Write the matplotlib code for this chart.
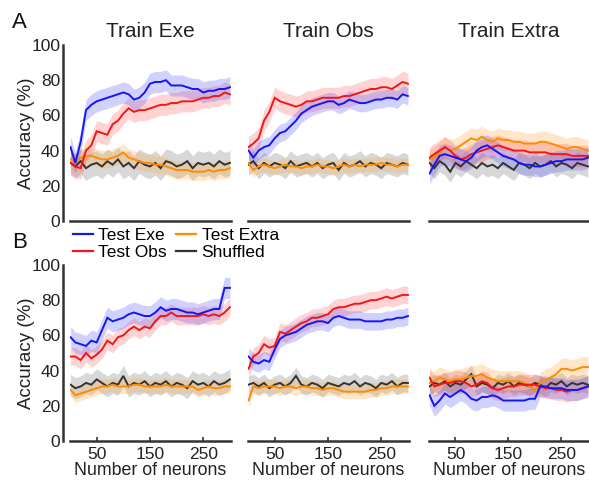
import matplotlib
matplotlib.use('Agg')
import matplotlib.pyplot as plt
import numpy as np
from matplotlib.lines import Line2D

plt.rcParams['font.family'] = ['Liberation Sans', 'DejaVu Sans']

# ---------------- data ----------------
neurons = [1, 10, 20, 30, 40, 50, 60, 70, 80, 90, 100, 110, 120, 130, 140, 150,
           160, 170, 180, 190, 200, 210, 220, 230, 240, 250, 260, 270, 280, 290, 300]

train_titles = ["Train Exe", "Train Obs", "Train Extra"]
series_labels = ["Test Exe", "Test Obs", "Test Extra", "Shuffled"]
tick_x = [50, 150, 250]
tick_y = [0, 20, 40, 60, 80, 100]

# Row A
a_exe_exe = [42, 33, 45, 63, 66, 68, 69, 70, 71, 72, 73, 72, 69, 70, 73, 78, 79, 79, 80, 77, 77, 77, 76, 75, 75, 73, 74, 74, 75, 75, 76]
a_exe_obs = [33, 31, 30, 40, 43, 51, 50, 49, 55, 57, 61, 64, 62, 63, 63, 64, 65, 66, 66, 67, 67, 68, 68, 68, 69, 70, 70, 71, 71, 73, 72]
a_exe_ext = [35, 33, 36, 37, 37, 36, 35, 35, 36, 37, 39, 36, 35, 34, 33, 33, 32, 32, 31, 30, 29, 29, 29, 28, 28, 28, 29, 28, 29, 29, 30]
a_exe_shf = [33, 31, 34, 30, 32, 33, 31, 34, 32, 35, 31, 33, 30, 34, 32, 31, 33, 30, 34, 33, 31, 32, 34, 30, 33, 32, 33, 31, 34, 32, 33]

a_obs_exe = [40, 36, 40, 42, 43, 47, 50, 51, 54, 57, 61, 63, 65, 66, 67, 68, 68, 66, 67, 69, 68, 67, 67, 68, 69, 69, 70, 70, 69, 72, 71]
a_obs_obs = [42, 44, 47, 57, 62, 70, 68, 67, 66, 65, 66, 68, 68, 69, 70, 70, 70, 70, 71, 71, 72, 73, 74, 75, 75, 76, 76, 75, 77, 79, 78]
a_obs_ext = [33, 29, 31, 32, 31, 30, 31, 32, 31, 31, 30, 31, 31, 32, 31, 31, 30, 31, 32, 31, 32, 31, 32, 32, 32, 33, 32, 32, 31, 32, 32]
a_obs_shf = [32, 34, 30, 33, 31, 33, 32, 30, 34, 31, 32, 33, 31, 33, 30, 32, 33, 29, 33, 31, 32, 34, 31, 33, 32, 30, 33, 32, 31, 33, 32]

a_ext_exe = [27, 32, 37, 38, 37, 36, 35, 34, 36, 40, 42, 43, 41, 39, 37, 36, 35, 33, 32, 32, 31, 31, 32, 33, 34, 34, 35, 35, 35, 35, 36]
a_ext_obs = [36, 38, 40, 42, 40, 37, 35, 36, 38, 39, 40, 41, 42, 43, 42, 41, 40, 40, 40, 39, 39, 39, 39, 38, 38, 38, 38, 37, 37, 37, 37]
a_ext_ext = [35, 36, 39, 42, 40, 41, 43, 45, 47, 46, 48, 46, 45, 47, 46, 46, 45, 45, 44, 44, 44, 45, 45, 44, 43, 42, 41, 42, 42, 41, 40]
a_ext_shf = [33, 30, 34, 32, 28, 33, 31, 34, 32, 30, 33, 31, 32, 30, 33, 31, 29, 33, 32, 30, 33, 31, 32, 34, 31, 33, 32, 30, 33, 32, 31]

# Row B
b_exe_exe = [59, 56, 55, 54, 57, 56, 63, 70, 68, 69, 70, 72, 73, 72, 71, 71, 73, 76, 74, 75, 75, 74, 73, 73, 72, 73, 74, 75, 75, 87, 87]
b_exe_obs = [48, 48, 46, 50, 47, 49, 52, 57, 55, 59, 60, 63, 65, 63, 65, 64, 68, 71, 71, 73, 71, 71, 71, 71, 71, 72, 71, 72, 71, 73, 76]
b_exe_ext = [29, 26, 27, 28, 29, 30, 31, 31, 32, 31, 31, 31, 32, 32, 31, 31, 31, 31, 32, 31, 31, 31, 31, 31, 29, 30, 31, 30, 30, 31, 31]
b_exe_shf = [32, 30, 31, 33, 32, 35, 33, 31, 33, 32, 37, 31, 33, 32, 34, 31, 33, 32, 34, 31, 33, 32, 30, 34, 32, 33, 31, 34, 32, 33, 35]

b_obs_exe = [48, 45, 44, 46, 45, 52, 58, 60, 61, 62, 64, 66, 67, 68, 68, 67, 70, 71, 70, 69, 69, 69, 68, 68, 68, 68, 69, 69, 70, 70, 71]
b_obs_obs = [41, 48, 50, 55, 53, 54, 62, 61, 63, 65, 67, 68, 70, 70, 71, 72, 75, 76, 76, 77, 78, 78, 79, 80, 80, 81, 82, 81, 82, 83, 83]
b_obs_ext = [23, 31, 30, 31, 31, 31, 30, 31, 31, 30, 31, 31, 30, 30, 29, 30, 30, 29, 28, 28, 28, 28, 28, 29, 29, 30, 30, 31, 31, 31, 31]
b_obs_shf = [32, 33, 31, 33, 30, 32, 33, 31, 33, 37, 32, 31, 33, 32, 30, 33, 32, 31, 33, 32, 34, 31, 33, 32, 30, 33, 32, 34, 31, 33, 33]

b_ext_exe = [26, 20, 23, 27, 25, 27, 29, 27, 24, 23, 25, 25, 26, 25, 23, 23, 23, 23, 23, 24, 24, 31, 31, 30, 30, 30, 29, 29, 29, 30, 31]
b_ext_obs = [36, 31, 32, 33, 33, 34, 34, 33, 31, 32, 34, 33, 30, 29, 30, 31, 31, 32, 32, 32, 32, 31, 30, 30, 29, 29, 28, 29, 29, 30, 31]
b_ext_ext = [33, 34, 36, 35, 34, 35, 35, 36, 37, 37, 38, 36, 35, 34, 34, 34, 34, 34, 33, 31, 29, 33, 35, 36, 38, 41, 41, 40, 41, 42, 42]
b_ext_shf = [31, 33, 32, 34, 31, 33, 32, 35, 38, 31, 33, 32, 30, 33, 32, 34, 31, 33, 32, 31, 33, 32, 30, 33, 32, 34, 31, 33, 32, 33, 32]

# band half-widths (Test Exe, Test Obs, Test Extra, Shuffled) per panel
a_exe_sem = [6, 6, 5, 7]
a_obs_sem = [5, 6, 4, 6]
a_ext_sem = [6, 6, 6, 6]
b_exe_sem = [6, 5, 4, 6]
b_obs_sem = [5, 5, 4, 5]
b_ext_sem = [6, 6, 6, 5]

rows = [
    [(a_exe_exe, a_exe_obs, a_exe_ext, a_exe_shf, a_exe_sem),
     (a_obs_exe, a_obs_obs, a_obs_ext, a_obs_shf, a_obs_sem),
     (a_ext_exe, a_ext_obs, a_ext_ext, a_ext_shf, a_ext_sem)],
    [(b_exe_exe, b_exe_obs, b_exe_ext, b_exe_shf, b_exe_sem),
     (b_obs_exe, b_obs_obs, b_obs_ext, b_obs_shf, b_obs_sem),
     (b_ext_exe, b_ext_obs, b_ext_ext, b_ext_shf, b_ext_sem)],
]

# ---------------- style ----------------
colors = ['#1515f5', '#f51515', '#ff8c00', '#333333']
band_colors = ['#4a4aff', '#ff5050', '#ffa640', '#909090']
band_alpha = [0.25, 0.25, 0.28, 0.35]
spine_col = '#333333'

W, H = 589, 482
fig = plt.figure(figsize=(W / 100, H / 100), dpi=100)

col_x = [(70, 231), (248, 409), (429, 589)]
row_y = [(45, 221), (265, 441)]

for r, row in enumerate(rows):
    for c, panel in enumerate(row):
        x0, x1 = col_x[c]
        y0, y1 = row_y[r]
        ax = fig.add_axes([x0 / W, 1 - y1 / H, (x1 - x0) / W, (y1 - y0) / H])
        exe, obs, ext, shf, sem = panel
        vals = [exe, obs, ext, shf]
        x = np.array(neurons)
        for k in [3, 2, 1, 0]:
            v = np.array(vals[k], dtype=float)
            ax.fill_between(x, v - sem[k], v + sem[k], color=band_colors[k],
                            alpha=band_alpha[k], linewidth=0)
        for k in [3, 2, 1, 0]:
            ax.plot(x, vals[k], color=colors[k], lw=1.4, solid_joinstyle='miter')
        ax.set_xlim(0, 302)
        ax.set_ylim(0, 100)
        for s in ['top', 'right']:
            ax.spines[s].set_visible(False)
        ax.spines['bottom'].set_linewidth(1.8)
        ax.spines['bottom'].set_color(spine_col)
        if c == 0:
            ax.spines['left'].set_position(('outward', 5))
            ax.spines['left'].set_linewidth(1.8)
            ax.spines['left'].set_color(spine_col)
            ax.set_yticks(tick_y)
            ax.tick_params(axis='y', length=0, pad=2, labelsize=12.5, labelcolor='#222222')
            ax.set_ylabel('Accuracy (%)', fontsize=13.5, color='#222222')
            ax.yaxis.set_label_coords(-0.215, 0.5)
        else:
            ax.spines['left'].set_visible(False)
            ax.set_yticks([])
        if r == 0:
            ax.set_xticks([])
            ax.set_title(train_titles[c], fontsize=15, color='#222222', pad=6)
        else:
            ax.set_xticks(tick_x)
            ax.tick_params(axis='x', direction='in', length=3, width=1.2,
                           color=spine_col, pad=4, labelsize=12.5, labelcolor='#222222')
            ax.set_xlabel('Number of neurons', fontsize=12.8, color='#222222', labelpad=0)

fig.text(12 / W, 1 - 22 / H, 'A', fontsize=16, color='#111111', va='center', ha='left')
fig.text(12 / W, 1 - 242 / H, 'B', fontsize=16, color='#111111', va='center', ha='left')

handles = [Line2D([], [], color=colors[k], lw=1.6) for k in range(4)]
fig.legend(handles, series_labels,
           ncol=2, loc='upper left', bbox_to_anchor=(73 / W, 1 - 228 / H),
           frameon=False, fontsize=12.5, handlelength=1.15, handletextpad=0.3,
           columnspacing=0.55, labelspacing=0.1, borderpad=0, borderaxespad=0)

fig.savefig('out.png', dpi=100)
